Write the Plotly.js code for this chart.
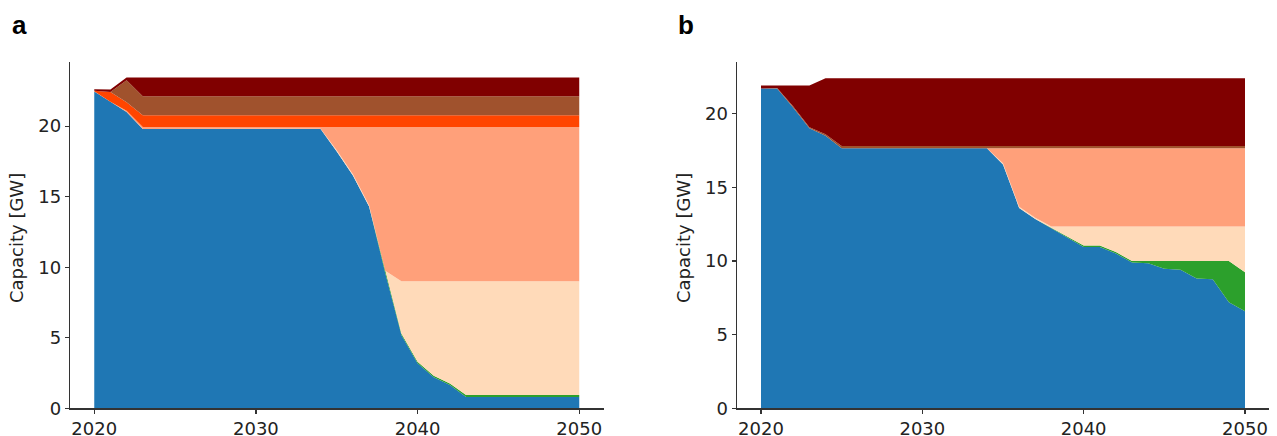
<!DOCTYPE html>
<html>
<head>
<meta charset="utf-8">
<script src="https://cdn.plot.ly/plotly-3.0.1.min.js"></script>
<style>html,body{margin:0;padding:0;background:#fff;}#chart{width:1277px;height:436px;}</style>
</head>
<body>
<div id="chart"></div>
<script>
// Years 2020..2050
const years = [2020,2021,2022,2023,2024,2025,2026,2027,2028,2029,2030,2031,2032,2033,2034,2035,2036,2037,2038,2039,2040,2041,2042,2043,2044,2045,2046,2047,2048,2049,2050];

const seriesNames = ['Blue', 'Green', 'Peach', 'Salmon', 'Orange-red', 'Sienna', 'Maroon'];
const seriesColors = ['#1f77b4', '#2ca02c', '#ffdab9', '#ffa07a', '#ff4500', '#a0522d', '#800000'];

// Panel a (GW)
const a_blue    = [22.45,21.7,21.0,19.8,19.8,19.8,19.8,19.8,19.8,19.8,19.8,19.8,19.8,19.8,19.8,18.2,16.5,14.3,9.6,5.2,3.2,2.2,1.65,0.8,0.8,0.8,0.8,0.8,0.8,0.8,0.8];
const a_green   = [0,0,0,0,0,0,0,0,0,0,0,0,0,0,0,0,0,0,0.1,0.1,0.1,0.1,0.1,0.15,0.15,0.15,0.15,0.15,0.15,0.15,0.15];
const a_peach   = [0,0,0,0,0,0,0,0,0,0,0,0,0,0,0.02,0.1,0.1,0.1,0.05,3.7,5.7,6.7,7.25,8.05,8.05,8.05,8.05,8.05,8.05,8.05,8.05];
const a_salmon  = [0.03,0.03,0.1,0.15,0.15,0.15,0.15,0.15,0.15,0.15,0.15,0.15,0.15,0.15,0.13,1.65,3.35,5.55,10.2,10.95,10.95,10.95,10.95,10.95,10.95,10.95,10.95,10.95,10.95,10.95,10.95];
const a_orange  = [0.04,0.7,0.6,0.83,0.83,0.83,0.83,0.83,0.83,0.83,0.83,0.83,0.83,0.83,0.83,0.83,0.83,0.83,0.83,0.83,0.83,0.83,0.83,0.83,0.83,0.83,0.83,0.83,0.83,0.83,0.83];
const a_sienna  = [0,0,1.56,1.35,1.35,1.35,1.35,1.35,1.35,1.35,1.35,1.35,1.35,1.35,1.35,1.35,1.35,1.35,1.35,1.35,1.35,1.35,1.35,1.35,1.35,1.35,1.35,1.35,1.35,1.35,1.35];
const a_maroon  = [0.1,0.17,0.19,1.32,1.32,1.32,1.32,1.32,1.32,1.32,1.32,1.32,1.32,1.32,1.32,1.32,1.32,1.32,1.32,1.32,1.32,1.32,1.32,1.32,1.32,1.32,1.32,1.32,1.32,1.32,1.32];

// Panel b (GW)
const b_blue    = [21.7,21.7,20.4,19.0,18.5,17.65,17.65,17.65,17.65,17.65,17.65,17.65,17.65,17.65,17.65,16.55,13.6,12.85,12.2,11.6,10.95,10.95,10.5,9.9,9.85,9.47,9.4,8.8,8.75,7.2,6.58];
const b_green   = [0,0,0,0,0,0,0,0,0,0,0,0,0,0,0,0,0,0,0.05,0.08,0.1,0.1,0.1,0.1,0.15,0.53,0.6,1.2,1.25,2.8,2.66];
const b_peach   = [0,0,0,0,0,0,0,0,0,0,0,0,0,0,0,0.08,0.08,0.08,0.09,0.66,1.29,1.29,1.74,2.34,2.34,2.34,2.34,2.34,2.34,2.34,3.1];
const b_salmon  = [0,0,0,0,0,0,0,0,0,0,0,0,0,0,0,1.02,3.97,4.72,5.31,5.31,5.31,5.31,5.31,5.31,5.31,5.31,5.31,5.31,5.31,5.31,5.31];
const b_orange  = [0,0,0,0,0,0,0,0,0,0,0,0,0,0,0,0,0,0,0,0,0,0,0,0,0,0,0,0,0,0,0];
const b_sienna  = [0,0.03,0.08,0.08,0.1,0.15,0.15,0.15,0.15,0.15,0.15,0.15,0.15,0.15,0.15,0.15,0.15,0.15,0.15,0.15,0.15,0.15,0.15,0.15,0.15,0.15,0.15,0.15,0.15,0.15,0.15];
const b_maroon  = [0.2,0.17,1.42,2.82,3.8,4.6,4.6,4.6,4.6,4.6,4.6,4.6,4.6,4.6,4.6,4.6,4.6,4.6,4.6,4.6,4.6,4.6,4.6,4.6,4.6,4.6,4.6,4.6,4.6,4.6,4.6];

const xTicks = [2020, 2030, 2040, 2050];
const yTicks = [0, 5, 10, 15, 20];
const yTitle = 'Capacity [GW]';
const panelLabels = ['a', 'b'];

const aSeries = [a_blue, a_green, a_peach, a_salmon, a_orange, a_sienna, a_maroon];
const bSeries = [b_blue, b_green, b_peach, b_salmon, b_orange, b_sienna, b_maroon];

const traces = [];
function addPanel(series, xa, ya, group) {
  series.forEach((vals, i) => {
    if (vals.every(v => v === 0)) return;
    traces.push({
      x: years, y: vals, type: 'scatter', mode: 'lines',
      stackgroup: group, name: seriesNames[i],
      line: {width: 0, color: seriesColors[i]},
      fillcolor: seriesColors[i],
      xaxis: xa, yaxis: ya, showlegend: false, hoverinfo: 'x+y+name'
    });
  });
}
addPanel(aSeries, 'x', 'y', 'a');
addPanel(bSeries, 'x2', 'y2', 'b');

const W = 1277, H = 436;
const tickFont = {family: 'DejaVu Sans', size: 18, color: '#222'};
function xAxis(d0, d1, anchor) {
  return {domain: [d0 / W, d1 / W], range: [2018.5, 2051.5], tickvals: xTicks,
    ticks: 'outside', ticklen: 4, tickwidth: 1.2, tickcolor: '#333',
    showline: true, linecolor: '#333', linewidth: 1.2, showgrid: false, zeroline: false,
    tickfont: tickFont, anchor: anchor, fixedrange: true};
}
function yAxis(top, anchor) {
  return {domain: [(H - 408.3) / H, (H - 62) / H], range: [0, top], tickvals: yTicks,
    ticks: 'outside', ticklen: 4, tickwidth: 1.2, tickcolor: '#333',
    showline: true, linecolor: '#333', linewidth: 1.2, showgrid: false, zeroline: false,
    tickfont: tickFont, anchor: anchor, fixedrange: true};
}

const layout = {
  width: W, height: H,
  margin: {l: 0, r: 0, t: 0, b: 0},
  paper_bgcolor: '#fff', plot_bgcolor: '#fff',
  showlegend: false,
  xaxis: xAxis(70, 603.5, 'y'),
  yaxis: yAxis(24.55, 'x'),
  xaxis2: xAxis(736.8, 1269.2, 'y2'),
  yaxis2: yAxis(23.5, 'x2'),
  annotations: [
    {text: yTitle, xref: 'paper', yref: 'paper', x: 17 / W, y: (H - 238) / H, xanchor: 'center', yanchor: 'middle',
     textangle: -90, showarrow: false, font: {family: 'DejaVu Sans', size: 18, color: '#222'}},
    {text: yTitle, xref: 'paper', yref: 'paper', x: 684 / W, y: (H - 238) / H, xanchor: 'center', yanchor: 'middle',
     textangle: -90, showarrow: false, font: {family: 'DejaVu Sans', size: 18, color: '#222'}},
    {text: '<b>' + panelLabels[0] + '</b>', xref: 'paper', yref: 'paper', x: 10 / W, y: 1 - 8 / H, xanchor: 'left', yanchor: 'top',
     showarrow: false, font: {family: 'Liberation Sans', size: 26, color: '#000'}},
    {text: '<b>' + panelLabels[1] + '</b>', xref: 'paper', yref: 'paper', x: 676 / W, y: 1 - 8 / H, xanchor: 'left', yanchor: 'top',
     showarrow: false, font: {family: 'Liberation Sans', size: 26, color: '#000'}}
  ]
};

Plotly.newPlot('chart', traces, layout, {displayModeBar: false, staticPlot: true});
</script>
</body>
</html>
